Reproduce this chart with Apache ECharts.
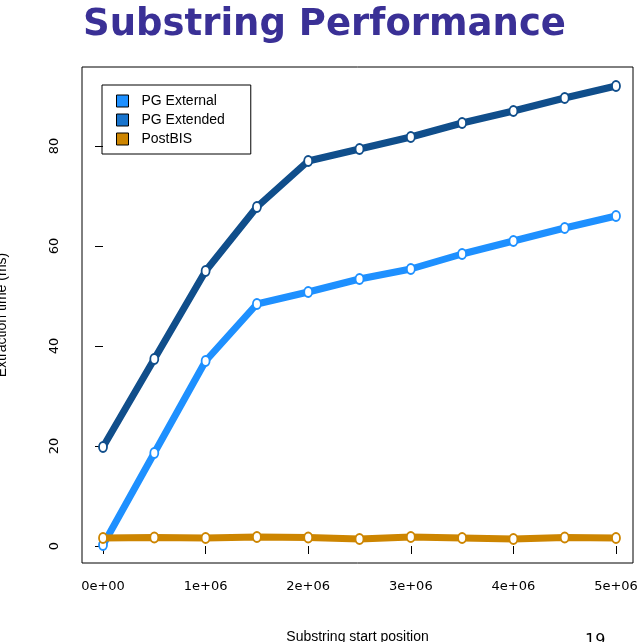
<!DOCTYPE html>
<html>
<head>
<meta charset="utf-8">
<script src="https://cdn.jsdelivr.net/npm/echarts@6/dist/echarts.min.js"></script>
<style>
html, body { margin: 0; padding: 0; background: #fff; }
#main { width: 639px; height: 642px; }
</style>
</head>
<body>
<div id="main"></div>
<script>
var positions = [0, 500000, 1000000, 1500000, 2000000, 2500000, 3000000, 3500000, 4000000, 4500000, 5000000];
var pgExternal = [0.2, 18.6, 37, 48.4, 50.8, 53.4, 55.4, 58.4, 61, 63.6, 66];
var pgExtended = [19.8, 37.4, 55, 67.8, 77, 79.4, 81.8, 84.6, 87, 89.6, 92];
var postBIS = [1.6, 1.7, 1.6, 1.8, 1.7, 1.4, 1.8, 1.6, 1.4, 1.7, 1.6];
var xTicks = [0, 1000000, 2000000, 3000000, 4000000, 5000000];
var xTickLabels = ['0e+00', '1e+06', '2e+06', '3e+06', '4e+06', '5e+06'];
var yTicks = [0, 20, 40, 60, 80];

var myChart = echarts.init(document.getElementById('main'));

function pairs(vals) {
	return positions.map(function(p, i) { return [p, vals[i]]; });
}
function makeSeries(name, vals, color) {
	return {
		name: name,
		type: 'line',
		data: pairs(vals),
		symbol: 'emptyCircle',
		symbolSize: [8, 10],
		lineStyle: { width: 7, color: color, cap: 'round' },
		itemStyle: { color: color, borderColor: color, borderWidth: 1.3 },
		z: 3
	};
}

var option = {
	animation: false,
	textStyle: { fontFamily: 'DejaVu Sans' },
	title: [{
		text: 'Substring Performance',
		left: 78, top: 2,
		textStyle: { color: '#3a3096', fontSize: 37, fontWeight: 'bold', fontFamily: 'DejaVu Sans' }
	}, {
		text: '19',
		left: 580, top: 628,
		textStyle: { color: '#000', fontSize: 16, fontWeight: 'normal' }
	}],
	legend: {
		orient: 'vertical',
		left: 102, top: 85,
		padding: [9, 26, 8, 14],
		itemGap: 5,
		itemWidth: 12, itemHeight: 12,
		borderColor: '#000', borderWidth: 1, borderRadius: 0,
		icon: 'rect',
		textStyle: { fontSize: 14, color: '#000', fontFamily: 'Liberation Sans', padding: [0, 0, 0, 8] },
		data: [
			{ name: 'PG External', itemStyle: { color: '#1e90ff', borderColor: '#000', borderWidth: 1 } },
			{ name: 'PG Extended', itemStyle: { color: '#1874cd', borderColor: '#000', borderWidth: 1 } },
			{ name: 'PostBIS', itemStyle: { color: '#cd8500', borderColor: '#000', borderWidth: 1 } }
		]
	},
	grid: {
		left: 82, right: 6, top: 67, bottom: 79,
		containLabel: false, outerBoundsMode: 'none',
		show: true, borderColor: '#000', borderWidth: 1
	},
	xAxis: {
		type: 'value',
		min: -204700, max: 5165700,
		name: 'Substring start position',
		nameLocation: 'middle', nameGap: 58,
		nameTextStyle: { fontSize: 14, color: '#000', fontFamily: 'Liberation Sans' },
		axisLine: { show: false },
		splitLine: { show: false },
		offset: 9,
		axisTick: { show: true, length: 8, customValues: xTicks, lineStyle: { color: '#000' } },
		axisLabel: {
			customValues: xTicks, fontSize: 13, color: '#000', margin: 8,
			formatter: function(v) { return xTickLabels[xTicks.indexOf(v)]; }
		}
	},
	yAxis: {
		type: 'value',
		min: -3.4, max: 95.8,
		name: 'Extraction time (ms)',
		nameLocation: 'middle', nameGap: 64,
		nameTextStyle: { fontSize: 14, color: '#000', fontFamily: 'Liberation Sans' },
		axisLine: { show: false },
		splitLine: { show: false },
		offset: 9,
		axisTick: { show: true, length: 8, customValues: yTicks, lineStyle: { color: '#000' } },
		axisLabel: { customValues: yTicks, fontSize: 13, color: '#000', rotate: 90, margin: 12 }
	},
	series: [
		makeSeries('PG Extended', pgExtended, '#104e8b'),
		makeSeries('PG External', pgExternal, '#1e90ff'),
		makeSeries('PostBIS', postBIS, '#cd8500')
	]
};
myChart.setOption(option);
</script>
</body>
</html>
